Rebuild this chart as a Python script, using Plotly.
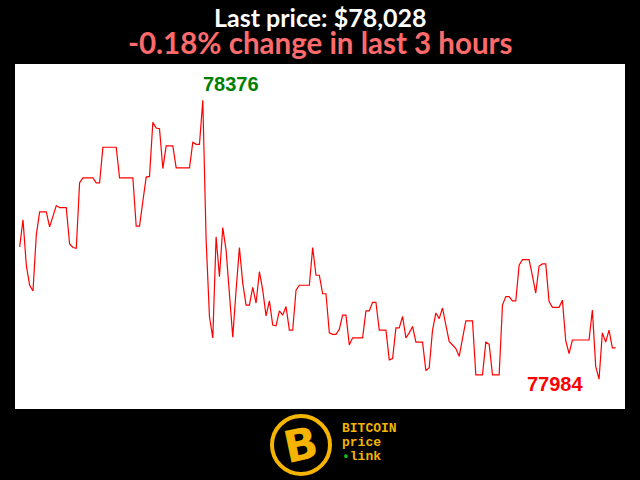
import plotly.graph_objects as go

# price per minute over the last 3 hours (180 samples)
prices = [
    78170, 78208, 78144, 78116, 78108, 78187, 78219, 78219, 78219, 78198,
    78213, 78228, 78225, 78225, 78225, 78174, 78169, 78168, 78260, 78267,
    78267, 78267, 78267, 78260, 78260, 78310, 78310, 78310, 78310, 78310,
    78267, 78267, 78267, 78267, 78267, 78199, 78199, 78234, 78268, 78269,
    78345, 78337, 78336, 78280, 78312, 78312, 78312, 78281, 78281, 78281,
    78281, 78281, 78317, 78314, 78314, 78376, 78180, 78072, 78042, 78184,
    78128, 78197, 78165, 78100, 78043, 78109, 78169, 78119, 78088, 78088,
    78113, 78091, 78135, 78109, 78073, 78094, 78060, 78059, 78080, 78074,
    78086, 78053, 78053, 78109, 78116, 78116, 78116, 78116, 78169, 78130,
    78130, 78104, 78104, 78049, 78047, 78047, 78054, 78074, 78074, 78032,
    78042, 78042, 78042, 78042, 78080, 78080, 78092, 78092, 78053, 78053,
    78053, 78011, 78013, 78056, 78056, 78072, 78042, 78049, 78058, 78036,
    78036, 78036, 77996, 78000, 78053, 78077, 78069, 78084, 78060, 78037,
    78032, 78027, 78016, 78041, 78066, 78066, 78066, 77990, 77990, 77990,
    78036, 78033, 77990, 77990, 77990, 78088, 78100, 78100, 78094, 78094,
    78144, 78152, 78152, 78152, 78129, 78105, 78143, 78146, 78146, 78093,
    78085, 78085, 78085, 78095, 78038, 78020, 78039, 78039, 78039, 78039,
    78039, 78039, 78081, 78002, 77984, 78049, 78036, 78053, 78028, 78028,
]
minutes = list(range(len(prices)))

title_line1 = "Last price: $78,028"
title_line2 = "-0.18% change in last 3 hours"
logo_lines = ["BITCOIN", "price", "link"]

max_i = prices.index(max(prices))
min_i = prices.index(min(prices))

fig = go.Figure()
fig.add_trace(go.Scatter(
    x=minutes, y=prices, mode="lines",
    line=dict(color="rgb(255,0,0)", width=1.2),
    hoverinfo="skip", showlegend=False,
))

gold = "#f4b400"


def px(x):
    return (x - 15) / 610


def py(y):
    return (409 - y) / 345.5


title_html = (
    "<b><span style='font-size:25px;color:white'>%s</span><br>"
    "<span style='font-size:29.5px;color:#ff6b6b'>%s</span></b>"
) % (title_line1, title_line2)

fig.update_layout(
    width=640, height=480,
    margin=dict(l=15, r=15, t=64, b=71, pad=0),
    paper_bgcolor="black",
    plot_bgcolor="white",
    xaxis=dict(range=[-1.4, 181.8], visible=False, fixedrange=True),
    yaxis=dict(range=[77942, 78427], visible=False, fixedrange=True),
    annotations=[
        dict(text=title_html, x=px(320), y=py(30), xref="paper", yref="paper",
             xanchor="center", yanchor="middle", showarrow=False, align="center",
             font=dict(family="Lato", size=21, color="white")),
        dict(text="<b>%d</b>" % prices[max_i], x=minutes[max_i], y=prices[max_i],
             xref="x", yref="y", xanchor="left", yanchor="bottom", showarrow=False,
             xshift=-2, yshift=3,
             font=dict(family="Liberation Sans", size=20, color="green")),
        dict(text="<b>%d</b>" % prices[min_i], x=minutes[min_i], y=prices[min_i],
             xref="x", yref="y", xanchor="right", yanchor="middle", showarrow=False,
             xshift=-14, yshift=-5,
             font=dict(family="Liberation Sans", size=20, color="red")),
        dict(text="<b>B</b>", x=px(301), y=py(445),
             xref="paper", yref="paper", xanchor="center", yanchor="middle",
             showarrow=False, textangle=-12,
             font=dict(family="DejaVu Sans", size=44, color=gold)),
        dict(text="<b>%s</b>" % logo_lines[0], x=px(340), y=py(429),
             xref="paper", yref="paper", xanchor="left", yanchor="middle", showarrow=False,
             font=dict(family="Liberation Mono", size=13, color=gold)),
        dict(text="<b>%s</b>" % logo_lines[1], x=px(340), y=py(443),
             xref="paper", yref="paper", xanchor="left", yanchor="middle", showarrow=False,
             font=dict(family="Liberation Mono", size=13, color=gold)),
        dict(text="<b><span style='color:#1db31d'>•</span>%s</b>" % logo_lines[2],
             x=px(340), y=py(457),
             xref="paper", yref="paper", xanchor="left", yanchor="middle", showarrow=False,
             font=dict(family="Liberation Mono", size=13, color=gold)),
    ],
    shapes=[
        dict(type="circle", xref="paper", yref="paper",
             x0=px(301 - 29), x1=px(301 + 29),
             y0=py(445 + 29), y1=py(445 - 29),
             line=dict(color=gold, width=4), fillcolor="black", layer="below"),
    ],
)

fig.write_html("out.html", config={"displayModeBar": False},
               post_script="document.body.style.margin='0px';")
